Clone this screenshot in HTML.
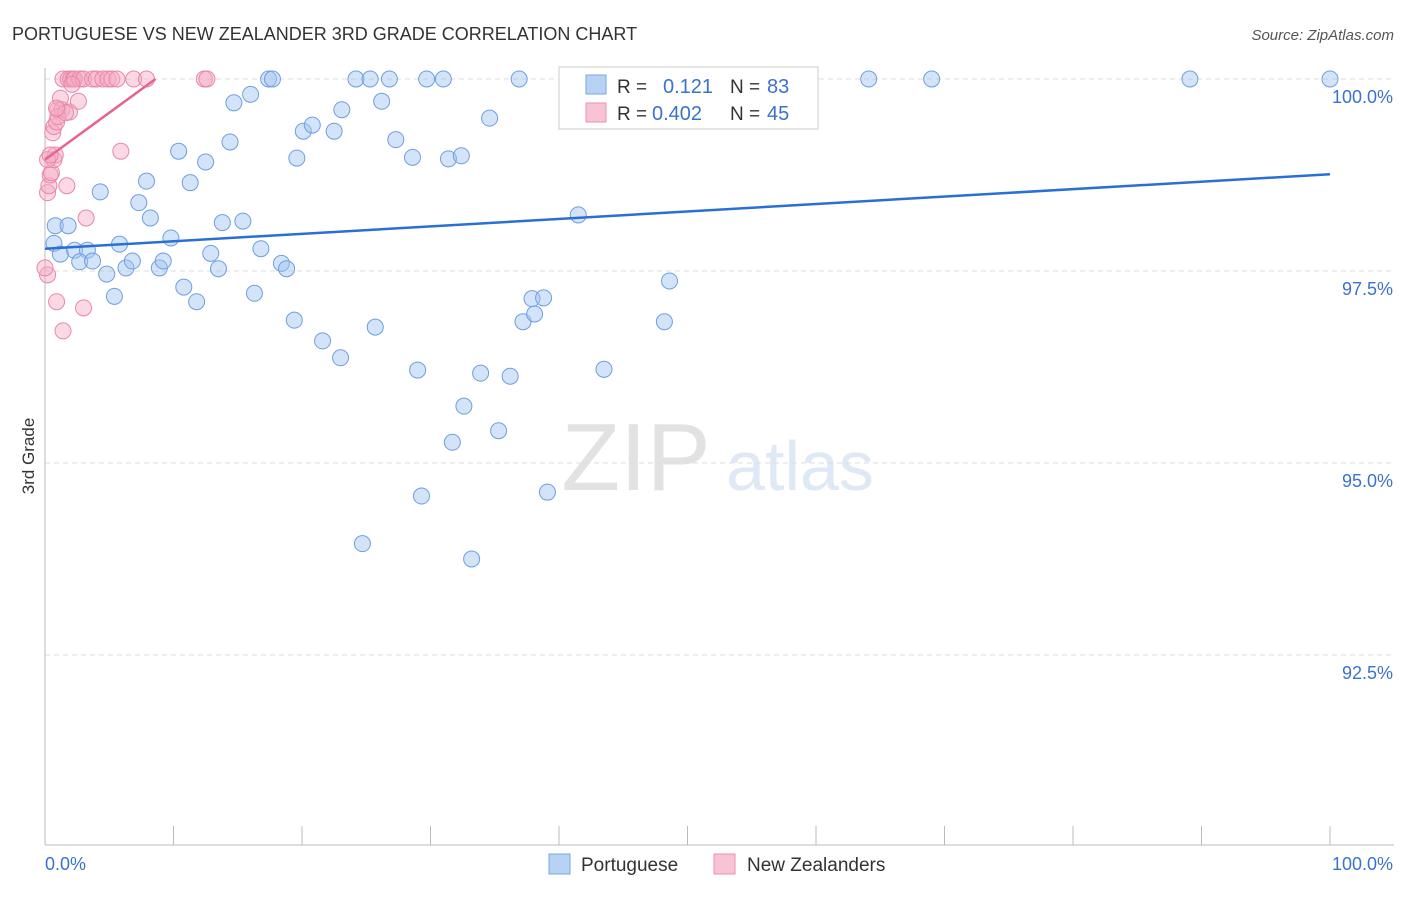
<!DOCTYPE html>
<html><head><meta charset="utf-8">
<style>
body{margin:0;background:#fff;font-family:"Liberation Sans",sans-serif;}
svg text{font-family:"Liberation Sans",sans-serif;}
</style></head>
<body>
<svg id="chart" width="1406" height="892" xmlns="http://www.w3.org/2000/svg">
<text x="12" y="40" font-size="18" fill="#333">PORTUGUESE VS NEW ZEALANDER 3RD GRADE CORRELATION CHART</text>
<text x="1394" y="40" font-size="15" fill="#555" text-anchor="end" font-style="italic">Source: ZipAtlas.com</text>
<text x="34" y="456" font-size="17" fill="#333" text-anchor="middle" transform="rotate(-90 34 456)">3rd Grade</text>
<g>
<text x="636" y="490" font-size="96" fill="#e2e2e2" text-anchor="middle" font-family="Liberation Serif">ZIP</text>
<text x="800" y="490" font-size="70" fill="#dfe8f5" text-anchor="middle">atlas</text>
</g>
<g id="grid"></g>
<g id="axes"></g>
<g id="pts"></g>
<g id="trend"></g>
<g>
<rect x="559" y="67" width="259" height="62" fill="#fff" stroke="#ccc"/>
<rect x="586" y="75" width="20" height="19" fill="#b8d2f4" stroke="#7aa6e6"/>
<rect x="586" y="103" width="20" height="19" fill="#f8c4d4" stroke="#ec8fae"/>
<text x="617" y="93" font-size="19" fill="#333">R =</text>
<text x="663" y="93" font-size="20" fill="#3a72d0">0.121</text>
<text x="730" y="93" font-size="19" fill="#333">N =</text>
<text x="767" y="93" font-size="20" fill="#3a72d0">83</text>
<text x="617" y="120" font-size="19" fill="#333">R =</text>
<text x="652" y="120" font-size="20" fill="#3a72d0">0.402</text>
<text x="730" y="120" font-size="19" fill="#333">N =</text>
<text x="767" y="120" font-size="20" fill="#3a72d0">45</text>
</g>
<g>
<rect x="549" y="854" width="21" height="20" fill="#b8d2f4" stroke="#7aa6e6"/>
<text x="581" y="871" font-size="19" fill="#333">Portuguese</text>
<rect x="714" y="854" width="21" height="20" fill="#f8c4d4" stroke="#ec8fae"/>
<text x="747" y="871" font-size="19" fill="#333">New Zealanders</text>
</g>
</svg>
<script>
const yTicks=[100,97.5,95,92.5];
const yTickLabels=["100.0%","97.5%","95.0%","92.5%"];
const xTickLabels=["0.0%","100.0%"];
const blueX=[0.8,1.8,0.7,1.2,2.3,3.3,2.7,3.7,4.3,4.8,5.4,5.8,6.3,6.8,7.3,7.9,8.2,8.9,9.2,9.8,10.4,10.8,11.3,11.8,12.5,12.9,13.5,13.8,14.4,14.7,15.4,16.0,16.3,16.8,17.4,17.7,18.4,18.8,19.4,19.6,20.1,20.8,21.6,22.5,23.0,23.1,24.2,24.7,25.3,25.7,26.2,26.8,27.3,28.6,29.0,29.3,29.7,31.0,31.4,31.7,32.4,32.6,33.2,33.9,34.6,35.3,36.2,36.9,37.2,37.9,38.1,38.8,39.1,41.5,43.5,45.4,48.2,48.6,51.2,64.1,69.0,89.1,100];
const blueY=[98.09,98.09,97.86,97.72,97.77,97.77,97.62,97.63,98.53,97.46,97.17,97.85,97.54,97.63,98.39,98.67,98.19,97.54,97.63,97.93,99.06,97.29,98.65,97.10,98.92,97.73,97.53,98.13,99.18,99.69,98.15,99.80,97.21,97.79,100,100,97.60,97.53,96.86,98.97,99.32,99.40,96.59,99.32,96.37,99.60,100,93.95,100,96.77,99.71,100,99.21,98.98,96.21,94.57,100,100,98.96,95.27,99.00,95.74,93.75,96.17,99.49,95.42,96.13,100,96.84,97.14,96.94,97.15,94.62,98.23,96.22,100,96.84,97.37,100,100,100,100,100];
const pinkX=[0.2,0.2,0.3,0.4,0.5,0.7,0.6,0.7,0.8,0.9,0.9,1.0,1.2,1.3,1.4,1.4,1.7,1.8,1.9,2.0,2.2,2.3,2.6,2.7,3.0,3.0,3.2,3.7,4.0,4.5,4.9,5.2,5.6,5.9,6.9,7.9,12.4,12.6,1.0,1.6,0.2,2.1,0.4,0.9,0];
const pinkY=[98.52,97.45,98.61,98.75,98.78,98.95,99.30,99.38,99.01,99.44,97.10,99.60,99.75,99.60,96.72,100,98.61,100,99.57,100,100,100,99.71,100,100,97.02,98.19,100,100,100,100,100,100,99.06,100,100,100,100,99.51,99.56,98.95,99.93,99.01,99.62,97.54];
const blueTrendX=[0,100], blueTrendY=[97.79,98.76];
const pinkTrendX=[0,8.6], pinkTrendY=[98.95,100];

const NS="http://www.w3.org/2000/svg";
const X=v=>45+v*12.85, Y=v=>79+(100-v)*76.8;
function mk(tag,attrs,parent){const e=document.createElementNS(NS,tag);for(const k in attrs)e.setAttribute(k,attrs[k]);document.getElementById(parent).appendChild(e);return e;}
yTicks.forEach((t,i)=>{
 const g=mk('line',{x1:45,x2:1394,y1:Y(t),y2:Y(t),stroke:'#ddd','stroke-dasharray':'5,4'},'grid');
 
 
 const l=mk('text',{x:1393,y:Y(t)+24,'font-size':18,fill:'#3a72d0','text-anchor':'end'},'axes');
 l.textContent=yTickLabels[i];
 
 
});
const ax=mk('line',{x1:45,x2:1394,y1:845,y2:845,stroke:'#bbb'},'axes');


const ay=mk('line',{x1:45,x2:45,y1:68,y2:845,stroke:'#bbb'},'axes');


for(let i=1;i<=10;i++){const t=mk('line',{x1:X(i*10),x2:X(i*10),y1:826,y2:845,stroke:'#bbb'},'axes');
 
 }
[[0,'start',45],[1,'end',1393]].forEach(([i,a,x])=>{const t=mk('text',{x:x,y:870,'font-size':18,fill:'#3a72d0','text-anchor':a},'axes');t.textContent=xTickLabels[i];
 
 });
blueX.forEach((v,i)=>{const c=mk('circle',{cx:X(v),cy:Y(blueY[i]),r:8,fill:'rgba(160,195,240,0.45)',stroke:'#6f9ee0','stroke-width':1},'pts');
 
 });
pinkX.forEach((v,i)=>{const c=mk('circle',{cx:X(v),cy:Y(pinkY[i]),r:8,fill:'rgba(245,170,195,0.45)',stroke:'#ea86a8','stroke-width':1},'pts');
 
 });
const bl=mk('line',{x1:X(blueTrendX[0]),y1:Y(blueTrendY[0]),x2:X(blueTrendX[1]),y2:Y(blueTrendY[1]),stroke:'#2a6fd6','stroke-width':2.5},'trend');


const pl=mk('line',{x1:X(pinkTrendX[0]),y1:Y(pinkTrendY[0]),x2:X(pinkTrendX[1]),y2:Y(pinkTrendY[1]),stroke:'#e8628e','stroke-width':2.5},'trend');


</script>
</body></html>
